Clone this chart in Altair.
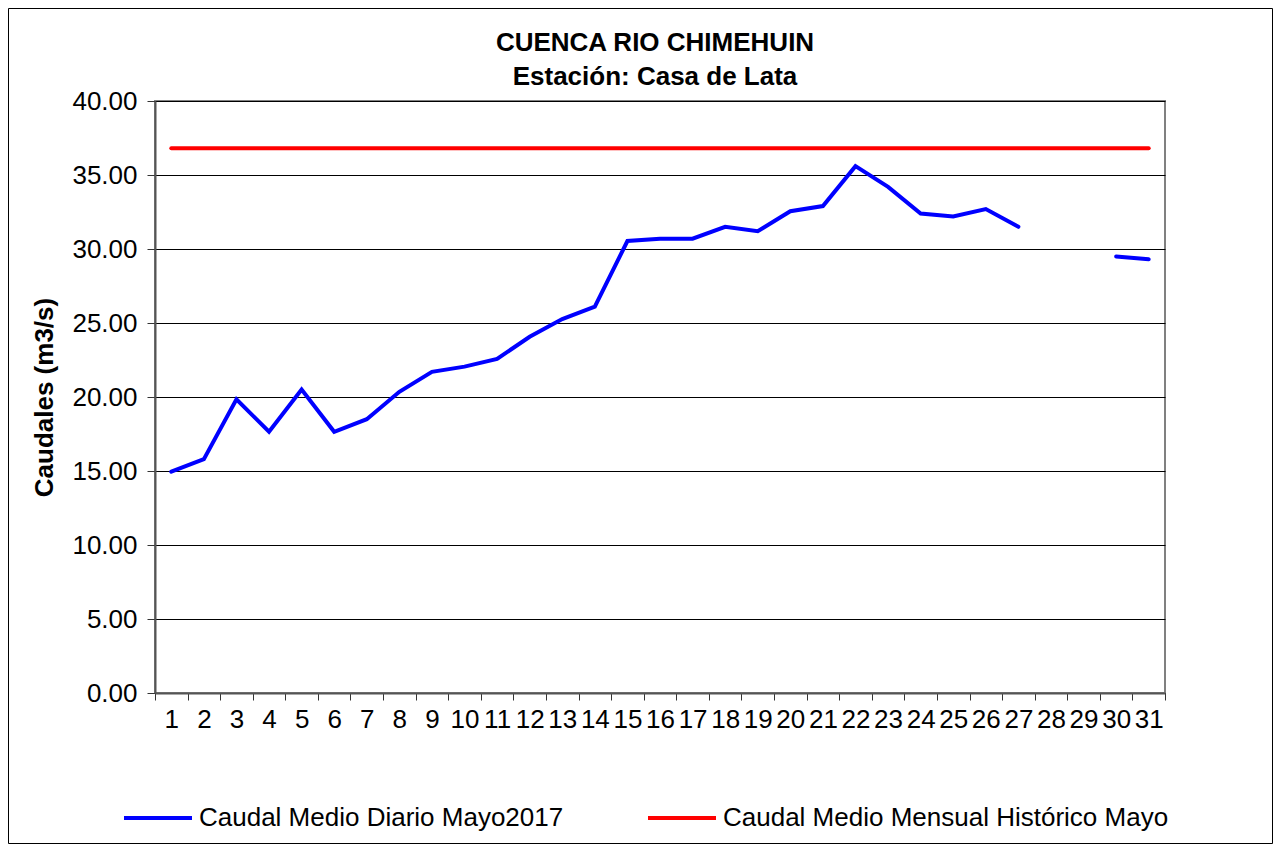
import altair as alt
import pandas as pd

days = list(range(1, 32))
daily_flow = [14.95, 15.8, 19.85, 17.65, 20.5, 17.65, 18.5, 20.35, 21.7, 22.05,
              22.57, 24.07, 25.27, 26.1, 30.54, 30.7, 30.7, 31.5, 31.2, 32.55,
              32.9, 35.6, 34.2, 32.4, 32.2, 32.7, 31.5, None, None, 29.5, 29.3]
historic_mean = 36.8
series_daily = "Caudal Medio Diario Mayo2017"
series_hist = "Caudal Medio Mensual Histórico Mayo"
y_ticks = [0, 5, 10, 15, 20, 25, 30, 35, 40]
title_lines = ["CUENCA RIO CHIMEHUIN", "Estación: Casa de Lata"]

rows = []
seg = 0
prev_none = True
for d, v in zip(days, daily_flow):
    if v is None:
        prev_none = True
        continue
    if prev_none:
        seg += 1
        prev_none = False
    rows.append({"day": d, "value": v, "series": series_daily, "seg": f"d{seg}"})
for d in days:
    rows.append({"day": d, "value": historic_mean, "series": series_hist, "seg": "h"})
df = pd.DataFrame(rows)

FONT = "Liberation Sans"

lines = alt.Chart(df).mark_line(strokeWidth=4, strokeCap="round", strokeJoin="miter").encode(
    x=alt.X("day:O", title=None, bandPosition=0.5,
            scale=alt.Scale(type="band", paddingInner=0, paddingOuter=0, domain=days),
            axis=alt.Axis(labelAngle=0, labelFontSize=26, labelFont=FONT, labelColor="black",
                          tickBand="extent", tickSize=7, tickColor="#333333", tickWidth=1,
                          domainColor="#555555", domainWidth=2, labelOverlap=False,
                          labelFlush=False, labelPadding=6, grid=False)),
    y=alt.Y("value:Q", title="Caudales (m3/s)",
            scale=alt.Scale(domain=[0, 40], nice=False),
            axis=alt.Axis(values=y_ticks, format=".2f", labelFontSize=26, labelFont=FONT,
                          labelColor="black", tickSize=8, tickColor="#333333",
                          domainColor="#555555", domainWidth=2, labelPadding=10,
                          titleFontSize=26, titleFont=FONT, titleFontWeight="bold",
                          titleColor="black", titlePadding=14,
                          grid=True, gridColor="black", gridWidth=1)),
    color=alt.Color("series:N", title=None,
                    scale=alt.Scale(domain=[series_daily, series_hist], range=["#0000FF", "#FF0000"]),
                    legend=alt.Legend(orient="none", legendX=-33, legendY=681, direction="horizontal",
                                      symbolType="stroke", symbolSize=4624, symbolStrokeWidth=4,
                                      labelFontSize=26, labelFont=FONT, labelColor="black",
                                      labelOffset=5, columnPadding=76, labelLimit=600)),
    detail="seg:N",
)

title_df = pd.DataFrame({"line": title_lines, "ypos": [-58, -24]})
title = alt.Chart(title_df).mark_text(fontSize=26, font=FONT, fontWeight="bold", color="black",
                                       align="center", baseline="middle").encode(
    text="line:N", x=alt.value(500), y=alt.Y("ypos:Q", scale=None)
)

border = alt.Chart(pd.DataFrame({"k": [0]})).mark_rect(fill=None, stroke="black", strokeWidth=1).encode(
    x=alt.value(-146.5), x2=alt.value(1117.5), y=alt.value(-92.5), y2=alt.value(742.5)
)

chart = alt.layer(border, lines, title).properties(
    width=1010, height=592,
    padding={"left": 147, "top": 93, "right": 108, "bottom": 151},
    autosize=alt.AutoSizeParams(type="none"),
).configure_view(stroke="#808080", strokeWidth=2)

chart.save("out.html", embed_options={"renderer": "svg", "actions": False})
